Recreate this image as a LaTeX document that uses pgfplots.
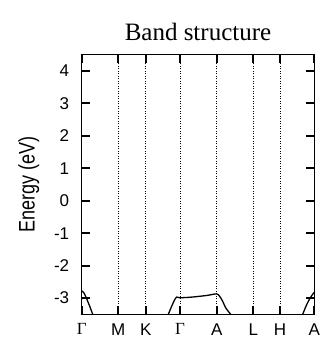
\documentclass[border=0pt]{standalone}
\usepackage{fontspec}
\setmainfont{Liberation Sans}
\newfontfamily\seriffont{Liberation Serif}
\usepackage{graphicx}
\usepackage{pgfplots}
\pgfplotsset{compat=1.18}
\pgfplotsset{bandax/.style={
  scale only axis,
  width=232.6pt, height=259.6pt,
  xmin=0, xmax=232.6, ymin=-3.5, ymax=4.5,
  xtick={0,36.6,64,98.3,135,171.6,198.3,232.6},
  ytick={-3,-2,-1,0,1,2,3,4},
  major tick length=8pt,
  every tick/.style={black, solid, line width=1.8pt, line cap=butt},
}}
\begin{document}
\begin{tikzpicture}
\begin{axis}[
  bandax,
  tick align=inside,
  xticklabels={{\seriffont Γ},M,K,{\seriffont Γ},A,L,H,A},
  xmajorgrids,
  grid style={black, dash pattern=on 1pt off 1.5pt, line width=0.8pt},
  axis line style={line width=1.3pt},
  ticklabel style={font=\fontsize{17}{17}\selectfont},
  xticklabel style={yshift=-6pt},
  yticklabel style={xshift=-9pt},
  /pgf/number format/assume math mode=true,
  ylabel={\scalebox{1}[1.25]{Energy (eV)}},
  ylabel style={font=\fontsize{18}{18}\selectfont, yshift=8pt},
  title={\seriffont Band structure},
  title style={font=\fontsize{25}{25}\selectfont, yshift=4pt},
]
\addplot[black, line width=1.3pt, smooth] coordinates {(0,-2.78) (2,-2.83) (4,-2.95) (6,-3.1) (8,-3.25) (11,-3.5)};
\addplot[black, line width=1.1pt] coordinates {(0,-3.02) (3,-3.0) (6,-3.02)};
\addplot[black, line width=1.3pt, smooth] coordinates {(86.6,-3.5) (90,-3.25) (93,-3.05) (95,-2.97) (98.3,-2.99) (110,-2.97) (125,-2.92) (135,-2.87) (138,-2.95) (141,-3.1) (144,-3.3) (149,-3.5)};
\addplot[black, line width=1.3pt, smooth] coordinates {(221,-3.5) (225,-3.2) (229,-2.97) (232.6,-2.82)};
\end{axis}
\begin{axis}[
  bandax,
  axis x line*=bottom, axis y line*=right,
  axis line style={line width=1.3pt, -},
  xtick align=outside, ytick align=outside,
  xtick style={yshift=8pt}, ytick style={xshift=-8pt},
  xticklabels={}, yticklabels={},
]
\end{axis}
\path ([shift={(-81.7pt,-30.7pt)}]current axis.south west) rectangle ([shift={(7.7pt,54.7pt)}]current axis.north east);
\end{tikzpicture}
\end{document}
